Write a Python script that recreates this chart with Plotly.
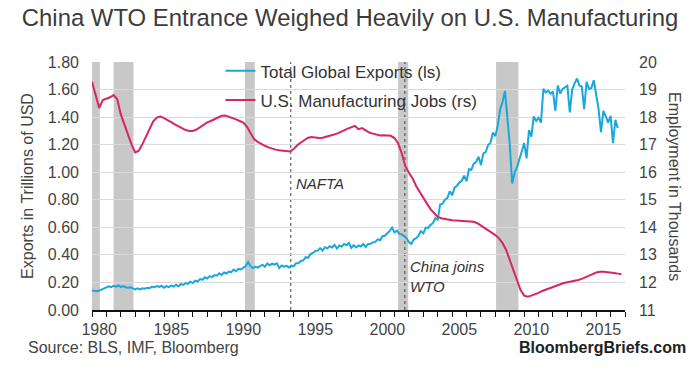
import plotly.graph_objects as go

title_text = "China WTO Entrance Weighed Heavily on U.S. Manufacturing"
source_text = "Source: BLS, IMF, Bloomberg"
brand_text = "BloombergBriefs.com"

export_name = "Total Global Exports (ls)"
jobs_name = "U.S. Manufacturing Jobs (rs)"

# Total global exports, trillions USD, bi-monthly readings from 1980
export_start = 1980.0
export_step = 1 / 6
exports = [
    0.142, 0.139, 0.136, 0.141, 0.148, 0.156,   # 1980
    0.160, 0.172, 0.166, 0.176, 0.170, 0.178,   # 1981
    0.166, 0.173, 0.165, 0.161, 0.164, 0.158,   # 1982
    0.150, 0.157, 0.150, 0.158, 0.154, 0.162,   # 1983
    0.158, 0.170, 0.165, 0.174, 0.167, 0.176,   # 1984
    0.162, 0.173, 0.166, 0.177, 0.170, 0.183,   # 1985
    0.172, 0.189, 0.182, 0.196, 0.190, 0.206,   # 1986
    0.196, 0.213, 0.207, 0.224, 0.219, 0.238,   # 1987
    0.229, 0.246, 0.239, 0.253, 0.249, 0.266,   # 1988
    0.254, 0.273, 0.265, 0.279, 0.274, 0.293,   # 1989
    0.281, 0.299, 0.294, 0.306, 0.319, 0.348,   # 1990
    0.318, 0.304, 0.313, 0.307, 0.319, 0.329,   # 1991
    0.314, 0.338, 0.324, 0.336, 0.329, 0.339,   # 1992
    0.304, 0.323, 0.314, 0.321, 0.309, 0.323,   # 1993
    0.317, 0.339, 0.341, 0.356, 0.361, 0.383,   # 1994
    0.379, 0.406, 0.414, 0.429, 0.431, 0.449,   # 1995
    0.431, 0.456, 0.447, 0.463, 0.454, 0.473,   # 1996
    0.446, 0.469, 0.461, 0.479, 0.469, 0.486,   # 1997
    0.451, 0.471, 0.454, 0.469, 0.461, 0.479,   # 1998
    0.456, 0.479, 0.481, 0.491, 0.494, 0.513,   # 1999
    0.506, 0.536, 0.539, 0.556, 0.574, 0.598,   # 2000
    0.563, 0.576, 0.553, 0.549, 0.538, 0.522,   # 2001
    0.492, 0.481, 0.512, 0.521, 0.540, 0.572,   # 2002
    0.556, 0.598, 0.596, 0.618, 0.630, 0.668,   # 2003
    0.655, 0.766, 0.772, 0.801, 0.812, 0.862,   # 2004
    0.832, 0.888, 0.902, 0.925, 0.938, 0.975,   # 2005
    0.935, 1.022, 1.018, 1.062, 1.075, 1.112,   # 2006
    1.052, 1.135, 1.148, 1.198, 1.215, 1.288,   # 2007
    1.262, 1.340, 1.455, 1.510, 1.590, 1.420,   # 2008
    1.205, 0.918, 0.995, 1.035, 1.085, 1.150,   # 2009
    1.212, 1.100, 1.305, 1.258, 1.405, 1.372,   # 2010
    1.395, 1.360, 1.605, 1.578, 1.592, 1.570,   # 2011
    1.585, 1.446, 1.630, 1.572, 1.605, 1.618,   # 2012
    1.628, 1.434, 1.600, 1.645, 1.680, 1.630,   # 2013
    1.622, 1.458, 1.656, 1.605, 1.612, 1.668,   # 2014
    1.560, 1.458, 1.290, 1.446, 1.405, 1.360,   # 2015
    1.409, 1.211, 1.380, 1.320,                 # 2016
]

# U.S. manufacturing jobs, quarterly readings from 1980
jobs_start = 1980.0
jobs_step = 0.25
jobs = [
    19.28, 18.80, 18.33, 18.62,   # 1980
    18.67, 18.72, 18.80, 18.65,   # 1981
    18.10, 17.72, 17.37, 17.00,   # 1982
    16.72, 16.78, 17.02, 17.30,   # 1983
    17.62, 17.85, 17.98, 18.02,   # 1984
    17.96, 17.90, 17.82, 17.74,   # 1985
    17.66, 17.58, 17.53, 17.50,   # 1986
    17.50, 17.55, 17.63, 17.74,   # 1987
    17.81, 17.86, 17.92, 17.98,   # 1988
    18.05, 18.06, 18.02, 17.98,   # 1989
    17.92, 17.86, 17.80, 17.66,   # 1990
    17.40, 17.20, 17.10, 17.02,   # 1991
    16.96, 16.90, 16.85, 16.82,   # 1992
    16.80, 16.78, 16.78, 16.75,   # 1993
    16.84, 16.98, 17.08, 17.16,   # 1994
    17.25, 17.28, 17.25, 17.24,   # 1995
    17.25, 17.28, 17.31, 17.36,   # 1996
    17.40, 17.45, 17.52, 17.58,   # 1997
    17.64, 17.68, 17.56, 17.60,   # 1998
    17.52, 17.44, 17.40, 17.36,   # 1999
    17.33, 17.34, 17.34, 17.32,   # 2000
    17.24, 17.05, 16.69, 16.22,   # 2001
    15.98, 15.78, 15.50, 15.27,   # 2002
    15.05, 14.86, 14.66, 14.50,   # 2003
    14.38, 14.33, 14.30, 14.28,   # 2004
    14.26, 14.25, 14.24, 14.23,   # 2005
    14.22, 14.21, 14.20, 14.15,   # 2006
    14.07, 13.98, 13.90, 13.82,   # 2007
    13.72, 13.60, 13.43, 13.18,   # 2008
    12.80, 12.45, 12.08, 11.72,   # 2009
    11.52, 11.48, 11.52, 11.56,   # 2010
    11.62, 11.69, 11.74, 11.80,   # 2011
    11.85, 11.89, 11.94, 11.98,   # 2012
    12.01, 12.03, 12.05, 12.09,   # 2013
    12.13, 12.18, 12.24, 12.30,   # 2014
    12.36, 12.39, 12.39, 12.38,   # 2015
    12.36, 12.34, 12.32, 12.30,   # 2016
]

# Recession periods (start, end) in decimal years
recession_starts = [1980.0, 1981.5, 1990.62, 2001.25, 2008.05]
recession_ends = [1980.55, 1982.88, 1991.3, 2001.95, 2009.6]

# Event markers
event_years = [1993.8, 2001.72]
event_labels = ["NAFTA", "China joins<br>WTO"]
event_label_values = [0.92, 0.24]

x_tick_years = [1980, 1985, 1990, 1995, 2000, 2005, 2010, 2015]
left_tick_values = [0.0, 0.2, 0.4, 0.6, 0.8, 1.0, 1.2, 1.4, 1.6, 1.8]
right_tick_values = [11, 12, 13, 14, 15, 16, 17, 18, 19, 20]

BLUE = "#1aa7db"
RED = "#d8265c"
TEXT = "#444444"
FONT = "Liberation Sans, Arial, sans-serif"

export_x = [export_start + i * export_step for i in range(len(exports))]
jobs_x = [jobs_start + i * jobs_step for i in range(len(jobs))]

fig = go.Figure()

fig.add_trace(go.Scatter(x=export_x, y=exports, name=export_name, mode="lines",
                         legendgroup="a",
                         line=dict(color=BLUE, width=2), yaxis="y"))
fig.add_trace(go.Scatter(x=jobs_x, y=jobs, name=jobs_name, mode="lines",
                         legendgroup="b",
                         line=dict(color=RED, width=2), yaxis="y2"))

for s, e in zip(recession_starts, recession_ends):
    fig.add_shape(type="rect", xref="x", yref="paper", x0=s, x1=e, y0=0, y1=1,
                  fillcolor="#c8c8c8", line_width=0, layer="below")

for yr, lab, yv in zip(event_years, event_labels, event_label_values):
    fig.add_shape(type="line", xref="x", yref="paper", x0=yr, x1=yr, y0=0, y1=1,
                  line=dict(color="#444444", width=1, dash="dot"), layer="below")
    fig.add_annotation(x=yr, y=yv, xref="x", yref="y", text="<i>" + lab + "</i>",
                       showarrow=False, xanchor="left", xshift=3, align="left",
                       font=dict(family=FONT, size=15, color="#333333"))

fig.update_layout(
    width=700, height=368,
    margin=dict(l=92, r=75, t=62, b=58),
    paper_bgcolor="white", plot_bgcolor="white",
    font=dict(family=FONT, size=15, color=TEXT),
    title=dict(text=title_text, x=0.5, xanchor="center", xref="container",
               y=0.952, yref="container", yanchor="middle",
               font=dict(family=FONT, size=23.9, color="#3c3c3c")),
    showlegend=True,
    legend=dict(x=0.241, y=1.035, xanchor="left", yanchor="top",
                bgcolor="rgba(0,0,0,0)", borderwidth=0, tracegroupgap=4,
                font=dict(family=FONT, size=17, color="#333333"),
                itemwidth=30),
    xaxis=dict(range=[1980, 2017], showgrid=False, zeroline=False,
               tickmode="array", tickvals=[y + 0.5 for y in x_tick_years],
               ticktext=[str(y) for y in x_tick_years], ticks="",
               ticklabelstandoff=4,
               showline=True, linecolor="#111111", linewidth=2,
               minor=dict(tickmode="array", tickvals=list(range(1980, 2018)),
                          ticks="outside", ticklen=5, tickwidth=1, tickcolor="#111111"),
               tickfont=dict(family=FONT, size=16, color=TEXT)),
    yaxis=dict(range=[0, 1.8], tickmode="array", tickvals=left_tick_values,
               ticktext=["%.2f" % v for v in left_tick_values],
               showgrid=True, gridcolor="#d9d9d9", gridwidth=1, zeroline=False,
               showline=False, ticks="", ticklabelstandoff=12,
               tickfont=dict(family=FONT, size=16, color=TEXT),
               title=dict(text="Exports in Trillions of USD", standoff=10,
                          font=dict(family=FONT, size=16, color=TEXT))),
    yaxis2=dict(range=[11, 20], overlaying="y", side="right", tickmode="array",
                tickvals=right_tick_values, ticktext=[str(v) for v in right_tick_values],
                showgrid=False, zeroline=False, showline=False, ticks="",
                ticklabelstandoff=13,
                tickfont=dict(family=FONT, size=16, color=TEXT)),
)

fig.add_annotation(x=1.0, y=0.5, xref="paper", yref="paper", xshift=50,
                   text="Employment in Thousands", textangle=90, showarrow=False,
                   xanchor="center", yanchor="middle",
                   font=dict(family=FONT, size=16, color=TEXT))
fig.add_annotation(x=0, y=0, xref="paper", yref="paper", xshift=-66, yshift=-27,
                   text=source_text, showarrow=False, xanchor="left", yanchor="top",
                   font=dict(family=FONT, size=16, color=TEXT))
fig.add_annotation(x=1, y=0, xref="paper", yref="paper", xshift=63, yshift=-27,
                   text="<b>" + brand_text + "</b>", showarrow=False,
                   xanchor="right", yanchor="top",
                   font=dict(family=FONT, size=16, color="#222222"))

# Remove the browser's default 8px body margin so the figure fills the window exactly.
fig.write_html("out.html",
               config={"displayModeBar": False},
               post_script="document.body.style.margin='0';document.body.style.overflow='hidden';")
